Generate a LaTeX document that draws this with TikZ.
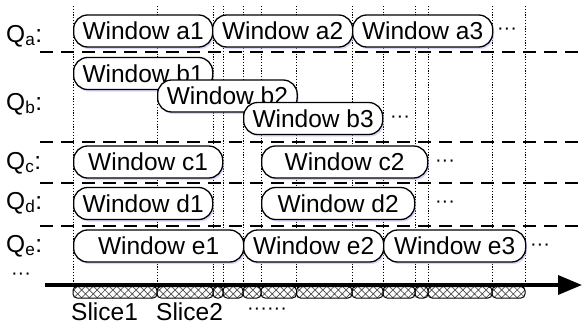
\documentclass[tikz,border=0pt]{standalone}
\usepackage{fontspec}
\setmainfont{Liberation Sans}
\usetikzlibrary{shadows,patterns.meta,arrows.meta}
\newcommand\winbox[5]{\node[win, minimum width={#3pt-#2pt}, anchor=west] (#1) at (#2,#4) {#5};}
\begin{document}
\begin{tikzpicture}[x=1pt,y=-1pt,
  win/.style={draw, line width=1.3pt, fill=white, rounded corners=14pt,
    minimum height=32pt, inner sep=0pt, font=\fontsize{24.5}{24.5}\selectfont,
    drop shadow={shadow xshift=1.5pt, shadow yshift=-2pt, fill=blue!30, opacity=0.5}},
  slicebox/.style={draw, line width=1pt, rounded corners=4pt,
    pattern={Hatch[angle=45,distance=5.5pt,line width=0.7pt]}, pattern color=black!70},
  vdot/.style={line width=1pt, dash pattern=on 1.2pt off 1.6pt},
  hdash/.style={line width=1.3pt, dash pattern=on 13pt off 8pt},
  lbl/.style={inner sep=0pt, font=\fontsize{24.5}{24.5}\selectfont},
  dots/.style={inner sep=0pt, font=\fontsize{20}{20}\selectfont},
  axis/.style={line width=3.5pt, -{Triangle[length=24pt,width=19pt]}}
]
\useasboundingbox (0,0) rectangle (582,325);
% vertical dotted slice boundaries
\foreach \x in {73,157,213,223,243,261,296.5,352,383,415,428,492,525}
  \draw[vdot] (\x,6) -- (\x,285);
% horizontal dashed separators
\foreach \y in {52,142,183,226}
  \draw[hdash] (40,\y) -- (582,\y);
% row labels
\node[lbl, anchor=base west] (qa) at (6,42) {Q\textsubscript{a}:};
\node[lbl, anchor=base west] (qb) at (6,110) {Q\textsubscript{b}:};
\node[lbl, anchor=base west] (qc) at (6,169) {Q\textsubscript{c}:};
\node[lbl, anchor=base west] (qd) at (6,209) {Q\textsubscript{d}:};
\node[lbl, anchor=base west] (qe) at (6,252) {Q\textsubscript{e}:};
\node[dots] (qdots) at (21,276) {···};
% windows
\winbox{a1}{73}{212}{31}{Window a1}
\winbox{a2}{212}{352}{31}{Window a2}
\winbox{a3}{352}{492}{31}{Window a3}
\node[dots] (adots) at (507,31) {···};
\winbox{b1}{73}{212}{73.5}{Window b1}
\winbox{b2}{157}{296.5}{96}{Window b2}
\winbox{b3}{243}{382}{118.5}{Window b3}
\node[dots] (bdots) at (400,119) {···};
\winbox{c1}{73}{222}{162}{Window c1}
\winbox{c2}{261}{427}{162}{Window c2}
\node[dots] (cdots) at (445,163) {···};
\winbox{d1}{73}{212}{203.5}{Window d1}
\winbox{d2}{261}{414}{203.5}{Window d2}
\node[dots] (ddots) at (445,204) {···};
\winbox{e1}{73}{243}{246}{Window e1}
\winbox{e2}{243}{383}{246}{Window e2}
\winbox{e3}{383}{525}{246}{Window e3}
\node[dots] (edots) at (540,247) {···};
% slices
\foreach \a/\b in {73/157,157/213,213/223,223/243,243/261,261/296.5,296.5/352,352/383,383/415,415/428,428/492,492/525}
  \draw[slicebox] (\a,286.5) rectangle (\b,298);
% time axis
\coordinate (axs) at (45,285);
\coordinate (axe) at (582,285);
\draw[axis] (axs) -- (axe);
% slice labels
\node[lbl, anchor=base west] (s1) at (71,320) {Slice1};
\node[lbl, anchor=base west] (s2) at (156,320) {Slice2};
\node[dots] (sdots) at (267,311) {······};
\end{tikzpicture}
\end{document}
